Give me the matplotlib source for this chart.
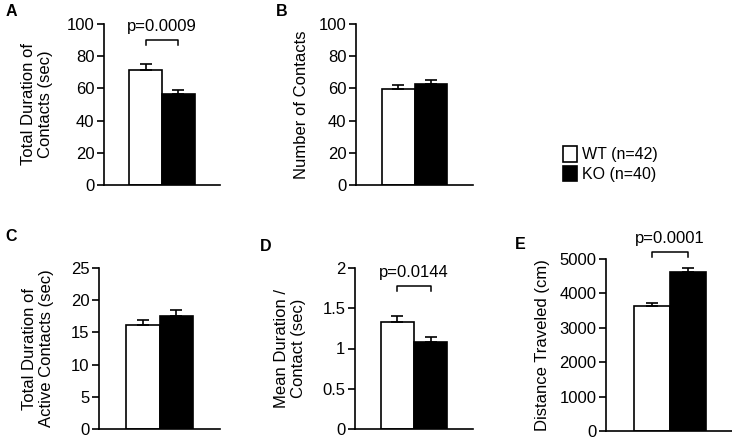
import matplotlib.pyplot as plt
from matplotlib.patches import Patch

plt.rcParams['font.family'] = ['Liberation Sans', 'DejaVu Sans']
FS = 12

# valores (WT, KO)
groups = ["WT (n=42)", "KO (n=40)"]
contact_dur = [71.5, 56.5]
contact_dur_err = [3.5, 2.5]
contact_num = [59.5, 62.5]
contact_num_err = [2.5, 2.8]
active_dur = [16.2, 17.6]
active_dur_err = [0.8, 0.9]
mean_dur = [1.33, 1.08]
mean_dur_err = [0.07, 0.065]
distance = [3620, 4620]
distance_err = [90, 110]

W, H = 732, 440
fig = plt.figure(figsize=(W / 100, H / 100), dpi=100)


def px_axes(x0, x1, ytop, ybot):
    return fig.add_axes([x0 / W, 1 - ybot / H, (x1 - x0) / W, (ybot - ytop) / H])


def bar_panel(ax, vals, errs, ymax, step, ylabel, label_x, fmt=None, pval=None, bracket_y=None):
    ax.bar([0, 1], vals, width=1.0, color=["white", "black"], edgecolor="black", linewidth=1.2)
    ax.errorbar([0, 1], vals, yerr=[[0, 0], errs], fmt="none", ecolor="black",
                elinewidth=1.2, capsize=4, capthick=1.2)
    ax.set_xlim(-1.28, 2.28)
    ax.set_ylim(0, ymax)
    ticks = [i * step for i in range(int(round(ymax / step)) + 1)]
    ax.set_yticks(ticks)
    if fmt:
        ax.set_yticklabels([fmt(t) for t in ticks])
    ax.set_xticks([])
    for s in ["top", "right"]:
        ax.spines[s].set_visible(False)
    ax.spines["left"].set_linewidth(1.2)
    ax.spines["bottom"].set_linewidth(1.2)
    ax.tick_params(axis="y", length=5, width=1.2, pad=2, labelsize=FS)
    ax.set_ylabel(ylabel, fontsize=FS, linespacing=1.2, va="center", ha="center")
    # posição do rótulo em pixels da figura
    bb = ax.get_position()
    ax.yaxis.set_label_coords((label_x / W - bb.x0) / bb.width, 0.5)
    if pval:
        by = bracket_y
        d = ymax * 0.03
        ax.plot([0.0, 0.0, 1.0, 1.0], [by - d, by, by, by - d], color="black",
                lw=1.1, clip_on=False)
        ax.text(0.5, by + ymax * 0.035, pval, ha="center", va="bottom", fontsize=FS,
                clip_on=False)


# A
axA = px_axes(104, 220, 24, 185)
bar_panel(axA, contact_dur, contact_dur_err, 100, 20, "Total Duration of\nContacts (sec)", 37,
          pval="p=0.0009", bracket_y=90)
# B
axB = px_axes(356, 473, 24, 185)
bar_panel(axB, contact_num, contact_num_err, 100, 20, "Number of Contacts", 302)
# C
axC = px_axes(99, 220, 268, 429)
bar_panel(axC, active_dur, active_dur_err, 25, 5, "Total Duration of\nActive Contacts (sec)", 38)
# D
axD = px_axes(355, 473, 268, 429)
bar_panel(axD, mean_dur, mean_dur_err, 2, 0.5, "Mean Duration /\nContact (sec)", 290,
          fmt=lambda t: f"{t:g}", pval="p=0.0144", bracket_y=1.78)
# E
axE = px_axes(606, 734, 259, 431)
bar_panel(axE, distance, distance_err, 5000, 1000, "Distance Traveled (cm)", 543,
          pval="p=0.0001", bracket_y=5200)

# rótulos dos painéis
for lbl, x, y in [("A", 6, 12), ("B", 276, 12), ("C", 5, 236), ("D", 260, 246), ("E", 515, 244)]:
    fig.text(x / W, 1 - y / H, lbl, fontsize=11.5, fontweight="bold", va="center", ha="left")

# legenda
handles = [Patch(facecolor="white", edgecolor="black", linewidth=1.2),
           Patch(facecolor="black", edgecolor="black", linewidth=1.2)]
fig.legend(handles, groups, loc="center left", bbox_to_anchor=(555 / W, 1 - 164 / H),
           frameon=False, fontsize=11.5, handlelength=0.9, handleheight=1.1,
           handletextpad=0.3, labelspacing=0.2, borderpad=0)

fig.savefig("out.png", dpi=100)
